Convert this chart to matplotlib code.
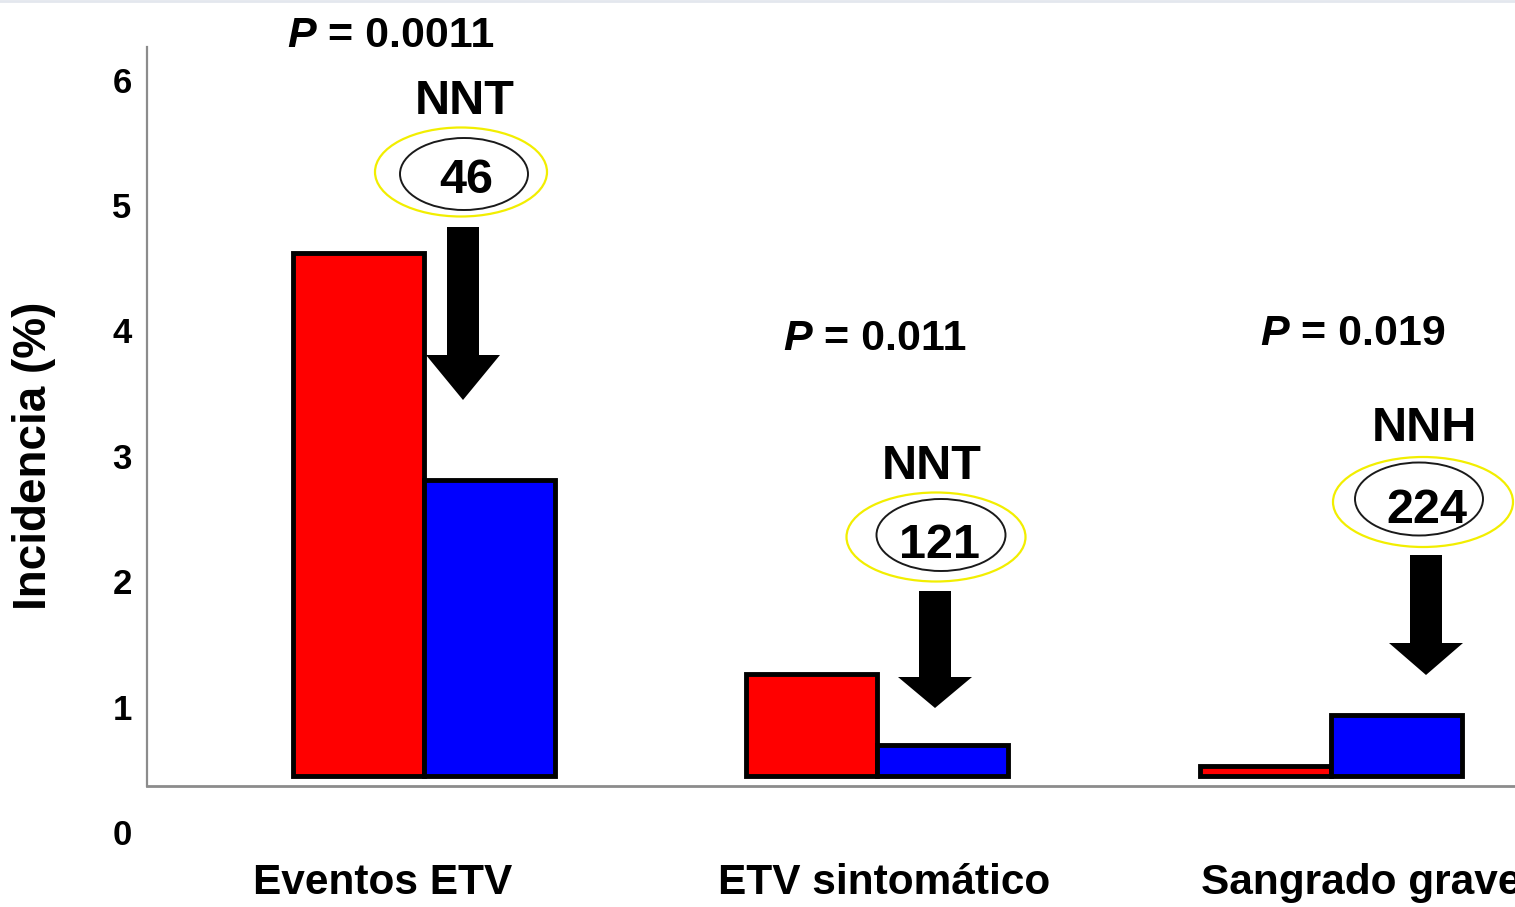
import numpy as np
import matplotlib
matplotlib.use("Agg")
import matplotlib.pyplot as plt
from matplotlib import font_manager as fm
from matplotlib.patches import Ellipse, FancyArrow
from matplotlib.transforms import Affine2D
from matplotlib.lines import Line2D

# ---- data -------------------------------------------------------------
categories = ["Eventos ETV", "ETV sintomático", "Sangrado grave"]
control_pct = [4.62, 1.26, 0.53]      # red bars
treated_pct = [2.81, 0.69, 0.93]      # blue bars
bar_floor = 0.45                      # bars rise from this level
p_values = ["0.0011", "0.011", "0.019"]
nn_kind = ["NNT", "NNT", "NNH"]
nn_value = ["46", "121", "224"]
y_ticks = [0, 1, 2, 3, 4, 5, 6]

# ---- fonts --------------------------------------------------------------
installed = {f.name for f in fm.fontManager.ttflist}
BASE = "Liberation Sans"
if "Liberation Sans Narrow" in installed:
    NARROW, P_SIZE, NN_SIZE = "Liberation Sans Narrow", 36, 39
else:
    NARROW, P_SIZE, NN_SIZE = BASE, 31, 35

# ---- figure and pixel helper -----------------------------------------
W, H = 1515, 907
fig = plt.figure(figsize=(W / 100, H / 100), dpi=100)
fig.patch.set_facecolor("white")
# layout helper: figure pixels, origin top-left
px = Affine2D().scale(1 / W, -1 / H).translate(0, 1) + fig.transFigure

unit = 125.4                      # pixels per percentage point
ax_left, ax_right, ax_top, ax_zero = 147, 1515, 47, 832
ax = fig.add_axes([ax_left / W, 1 - ax_zero / H,
                   (ax_right - ax_left) / W, (ax_zero - ax_top) / H])
ymax = (ax_zero - ax_top) / unit
spacing = 453.5
c0 = 423.5
ax.set_xlim(-(c0 - ax_left) / spacing, (ax_right - c0) / spacing)
ax.set_ylim(0, ymax)

x = np.arange(len(categories))
w = 131 / spacing
ax.bar(x - w / 2, np.array(control_pct) - bar_floor, bottom=bar_floor, width=w,
       color="#ff0000", edgecolor="black", linewidth=3.5, zorder=3)
ax.bar(x + w / 2, np.array(treated_pct) - bar_floor, bottom=bar_floor, width=w,
       color="#0000ff", edgecolor="black", linewidth=3.5, zorder=3)

# axes styling
axis_level = 0.367
for s in ("top", "right"):
    ax.spines[s].set_visible(False)
ax.spines["left"].set_bounds(axis_level, ymax)
ax.spines["left"].set_color("#8c8c8c")
ax.spines["left"].set_linewidth(1.6)
ax.spines["bottom"].set_position(("data", axis_level))
ax.spines["bottom"].set_color("#8c8c8c")
ax.spines["bottom"].set_linewidth(2.0)
ax.set_xticks([])
ax.set_yticks(y_ticks)
ax.set_yticklabels([str(t) for t in y_ticks], fontsize=25,
                   fontweight="bold", family=BASE)
ax.tick_params(axis="y", length=0, pad=11)
ax.patch.set_alpha(0)

# y label
fig.text(34, 456, "Incidencia (%)", transform=px, rotation=90, ha="center",
         va="center", fontsize=33, fontweight="bold", family=BASE)

# category labels
cat_x = [383, 884, 1201]
cat_ha = ["center", "center", "left"]
for name, cx, ha in zip(categories, cat_x, cat_ha):
    fig.text(cx, 894, name, transform=px, ha=ha, va="baseline",
             fontsize=30.5, fontweight="bold", family=BASE)

# P values: italic P followed by the value
p_pos = [(287, 47), (783, 350), (1260, 345)]
for (lx, base), val in zip(p_pos, p_values):
    t = fig.text(lx, base, "P", transform=px, ha="left", va="baseline",
                 fontsize=P_SIZE, fontweight="bold", fontstyle="italic",
                 family=NARROW)
    ax.annotate(" = " + val, xy=(1, 0), xycoords=t, ha="left", va="bottom",
                fontsize=P_SIZE, fontweight="bold", family=NARROW)

# NNT / NNH labels with ringed numbers
kind_pos = [(465, 114), (932, 479), (1424, 441)]
num_pos = [(466, 193), (940, 558), (1427, 523)]
outer = [(461, 172, 172, 89), (936, 537, 179, 89), (1423, 502, 180, 90)]
inner = [(464, 174, 128, 72), (941, 535, 129, 72), (1419, 499, 128, 73)]
for kind, (kx, ky) in zip(nn_kind, kind_pos):
    fig.text(kx, ky, kind, transform=px, ha="center", va="baseline",
             fontsize=NN_SIZE, fontweight="bold", family=NARROW)
for val, (nx, ny) in zip(nn_value, num_pos):
    fig.text(nx, ny, val, transform=px, ha="center", va="baseline",
             fontsize=NN_SIZE, fontweight="bold", family=NARROW)
for (cx, cy, ew, eh) in outer:
    fig.add_artist(Ellipse((cx, cy), ew, eh, transform=px, fill=False,
                           edgecolor="#f2ee00", linewidth=1.6))
for (cx, cy, ew, eh) in inner:
    fig.add_artist(Ellipse((cx, cy), ew, eh, transform=px, fill=False,
                           edgecolor="#1a1a1a", linewidth=1.4))

# downward arrows: (x, shaft top, tip, head length)
arrows = [(463, 227, 400, 45), (935, 591, 708, 31), (1426, 555, 675, 32)]
for ax_x, top, tip, hl in arrows:
    fig.add_artist(FancyArrow(ax_x, top, 0, tip - top, width=32,
                              head_width=74, head_length=hl,
                              length_includes_head=True, transform=px,
                              color="black", linewidth=0))

# thin border line along the top edge
fig.add_artist(Line2D([0, 1], [1 - 1 / H, 1 - 1 / H], transform=fig.transFigure,
                      color="#e3e7ee", linewidth=2))

fig.savefig("out.png", dpi=100)
